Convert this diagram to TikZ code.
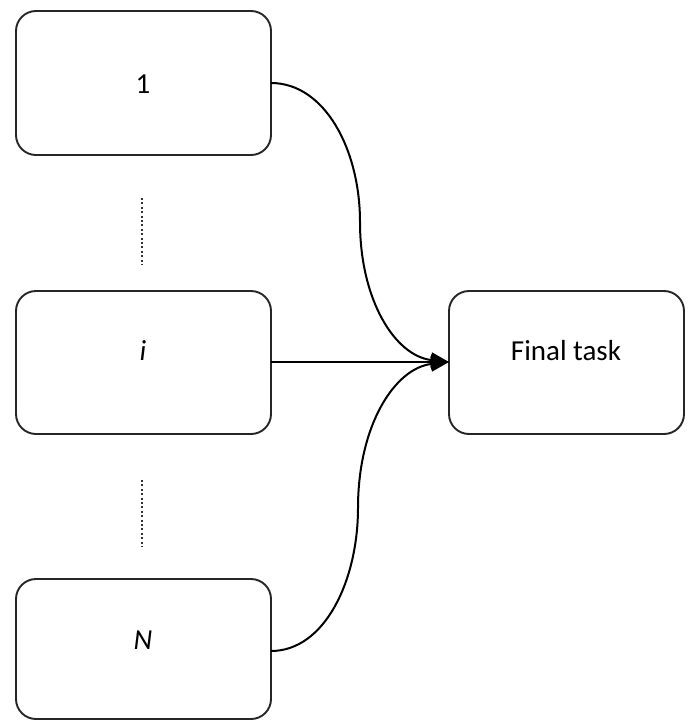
\documentclass[tikz,border=0pt]{standalone}
\usepackage{fontspec}
\setmainfont{Carlito}
\usetikzlibrary{arrows.meta}
\begin{document}
\begin{tikzpicture}[x=1pt,y=-1pt,
  taskbox/.style={draw=black!85, line width=1.9pt, rounded corners=20pt, fill=white},
  lbl/.style={font=\fontsize{29}{33}\selectfont, inner sep=0pt},
  conn/.style={line width=2pt, draw=black, -{Triangle[length=18pt,width=15pt]}},
  dotline/.style={line width=2.6pt, draw=black!80, dash pattern=on 2pt off 2.4pt}]
\useasboundingbox (0,0) rectangle (693,720);
% boxes
\draw[taskbox] (16,11) rectangle (271,155);
\draw[taskbox] (16,291) rectangle (271,434);
\draw[taskbox] (16,579) rectangle (271,719);
\draw[taskbox] (449,291) rectangle (684,434);
\node[lbl] (one) at (143,84) {1};
\node[lbl] (i) at (143,351) {\itshape i};
\node[lbl] (N) at (143,640) {\itshape N};
\node[lbl] (final) at (566,351) {Final task};
\coordinate (oneout) at (271,83);
\coordinate (iout) at (271,362);
\coordinate (Nout) at (271,651);
\coordinate (fin) at (449,362);
\coordinate (m1) at (360,222);
\coordinate (m2) at (358,508);
\draw[conn] (oneout) .. controls (325,83) and (360,150) .. (m1)
  .. controls (360,300) and (395,356) .. (fin);
\draw[conn] (iout) -- (fin);
\draw[conn] (Nout) .. controls (325,651) and (358,580) .. (m2)
  .. controls (358,425) and (395,368) .. (fin);
\coordinate (d1a) at (142,198);
\coordinate (d1b) at (142,265);
\coordinate (d2a) at (142,480);
\coordinate (d2b) at (142,547);
\draw[dotline] (d1a) -- (d1b);
\draw[dotline] (d2a) -- (d2b);
\end{tikzpicture}
\end{document}
